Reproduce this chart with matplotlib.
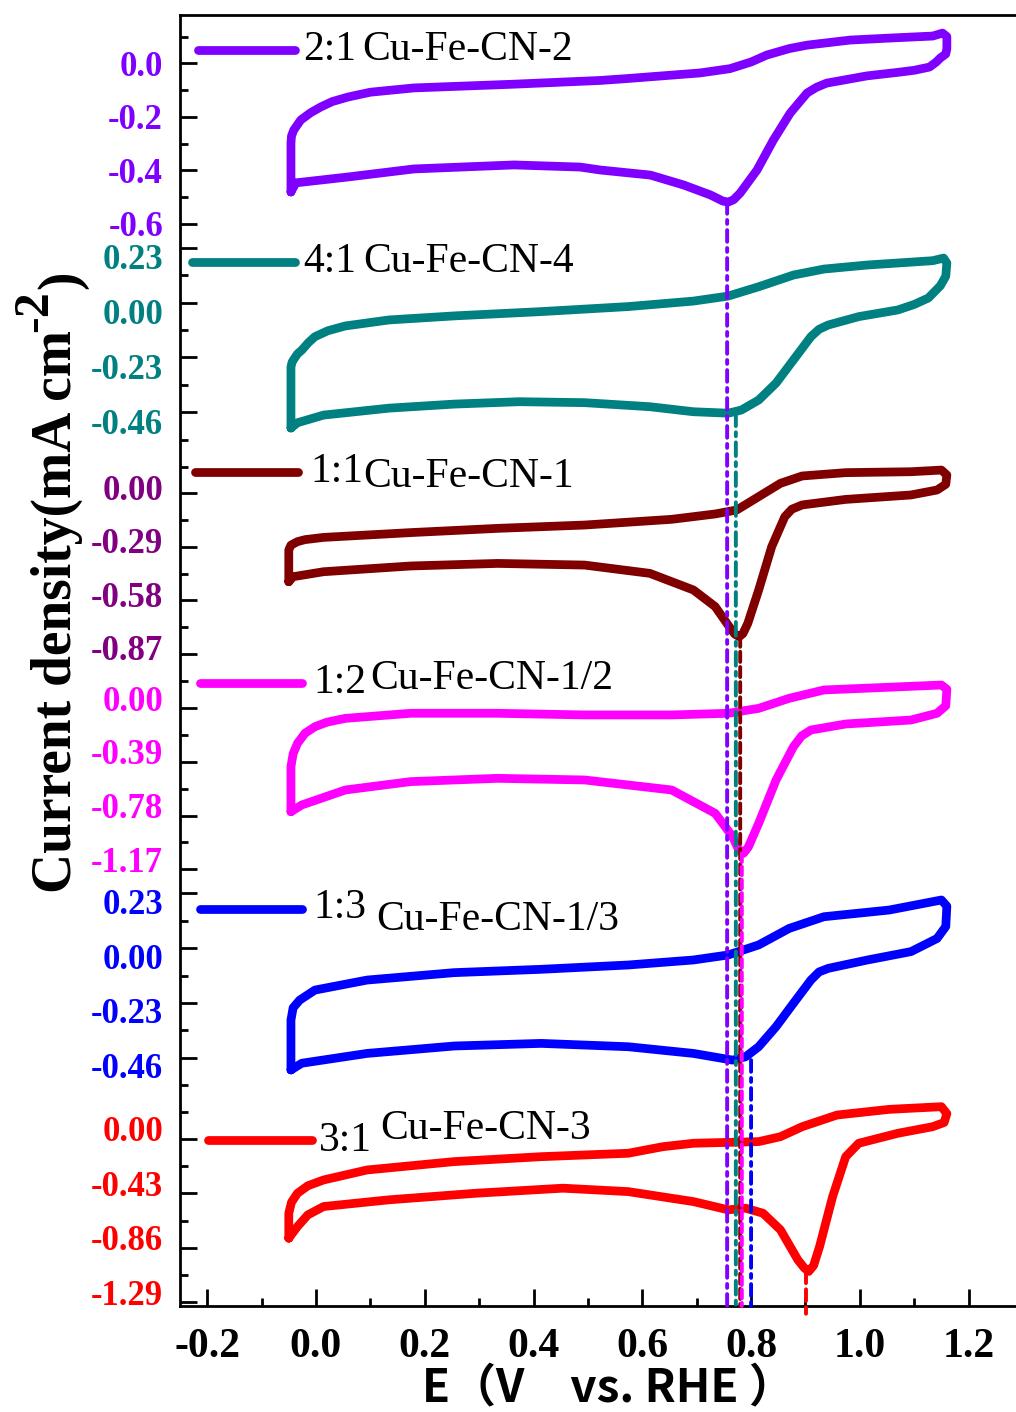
import matplotlib.pyplot as plt
from matplotlib.lines import Line2D
from matplotlib.patches import ConnectionPatch
from matplotlib.transforms import ScaledTranslation

plt.rcParams["font.family"] = "Liberation Serif"
plt.rcParams["axes.unicode_minus"] = False

# ---- data (E in V vs. RHE, j in mA cm-2), one closed CV loop per sample ----
ratios = ["2:1", "4:1", "1:1", "1:2", "1:3", "3:1"]
names = ["Cu-Fe-CN-2", "Cu-Fe-CN-4", "Cu-Fe-CN-1", "Cu-Fe-CN-1/2", "Cu-Fe-CN-1/3", "Cu-Fe-CN-3"]

e_cu2 = [-0.046, -0.046, -0.045, -0.041, -0.028, -0.010, 0.009, 0.030, 0.059, 0.100,
         0.180, 0.364, 0.523, 0.572, 0.706, 0.761, 0.800, 0.829, 0.870, 0.903,
         0.982, 1.060, 1.134, 1.152, 1.160, 1.160, 1.158, 1.148, 1.140, 1.128,
         1.100, 1.073, 1.013, 0.939, 0.920, 0.903, 0.872, 0.841, 0.811, 0.780,
         0.768, 0.758, 0.748, 0.725, 0.676, 0.615, 0.523, 0.486, 0.364, 0.180,
         0.059, -0.037, -0.046]
j_cu2 = [-0.481, -0.298, -0.272, -0.250, -0.212, -0.185, -0.163, -0.143, -0.126, -0.108,
         -0.092, -0.078, -0.064, -0.057, -0.036, -0.020, 0.005, 0.031, 0.055, 0.068,
         0.087, 0.095, 0.102, 0.113, 0.100, 0.055, 0.035, 0.020, 0.004, -0.014,
         -0.026, -0.033, -0.047, -0.074, -0.090, -0.111, -0.186, -0.287, -0.399, -0.485,
         -0.510, -0.519, -0.515, -0.492, -0.455, -0.418, -0.399, -0.388, -0.380, -0.395,
         -0.425, -0.447, -0.481]

e_cu4 = [-0.046, -0.046, -0.044, -0.040, -0.034, -0.026, -0.014, -0.002, 0.022, 0.054,
         0.134, 0.254, 0.414, 0.574, 0.694, 0.758, 0.814, 0.878, 0.934, 1.014,
         1.134, 1.154, 1.160, 1.158, 1.148, 1.126, 1.100, 1.070, 0.998, 0.942,
         0.925, 0.910, 0.878, 0.846, 0.814, 0.782, 0.758, 0.694, 0.614, 0.494,
         0.374, 0.254, 0.134, 0.014, -0.034, -0.046]
j_cu4 = [-0.525, -0.270, -0.250, -0.235, -0.215, -0.199, -0.168, -0.143, -0.118, -0.098,
         -0.073, -0.056, -0.038, -0.017, 0.006, 0.027, 0.066, 0.115, 0.140, 0.157,
         0.175, 0.186, 0.165, 0.110, 0.070, 0.019, -0.008, -0.031, -0.059, -0.094,
         -0.112, -0.143, -0.240, -0.337, -0.408, -0.450, -0.463, -0.457, -0.436, -0.419,
         -0.415, -0.425, -0.442, -0.471, -0.503, -0.525]

e_cu1 = [-0.050, -0.050, -0.046, -0.034, -0.020, 0.014, 0.174, 0.334, 0.494, 0.654,
         0.734, 0.774, 0.814, 0.854, 0.894, 0.974, 1.094, 1.150, 1.160, 1.158,
         1.142, 1.094, 0.974, 0.894, 0.875, 0.862, 0.838, 0.814, 0.794, 0.785,
         0.778, 0.770, 0.762, 0.734, 0.694, 0.614, 0.494, 0.334, 0.174, 0.014,
         -0.042, -0.050]
j_cu1 = [-0.478, -0.306, -0.280, -0.261, -0.250, -0.238, -0.212, -0.189, -0.171, -0.140,
         -0.111, -0.089, -0.017, 0.055, 0.095, 0.113, 0.118, 0.127, 0.100, 0.050,
         0.019, -0.008, -0.032, -0.062, -0.085, -0.126, -0.288, -0.523, -0.704, -0.760,
         -0.776, -0.762, -0.731, -0.613, -0.523, -0.433, -0.388, -0.379, -0.393, -0.424,
         -0.451, -0.478]

e_cu12 = [-0.046, -0.046, -0.042, -0.034, -0.020, -0.002, 0.020, 0.054, 0.174, 0.334,
          0.494, 0.654, 0.758, 0.814, 0.870, 0.934, 1.054, 1.150, 1.160, 1.158,
          1.142, 1.094, 0.974, 0.910, 0.893, 0.878, 0.846, 0.814, 0.795, 0.786,
          0.776, 0.766, 0.734, 0.654, 0.494, 0.334, 0.174, 0.054, -0.026, -0.046]
j_cu12 = [-0.752, -0.424, -0.330, -0.254, -0.180, -0.133, -0.100, -0.072, -0.035, -0.035,
          -0.047, -0.047, -0.035, 0.001, 0.074, 0.135, 0.155, 0.171, 0.140, 0.020,
          -0.035, -0.084, -0.113, -0.157, -0.200, -0.278, -0.521, -0.837, -1.010, -1.056,
          -1.020, -0.934, -0.764, -0.594, -0.521, -0.509, -0.533, -0.594, -0.703, -0.752]

e_cu13 = [-0.046, -0.046, -0.042, -0.030, -0.002, 0.094, 0.254, 0.414, 0.574, 0.694,
          0.758, 0.814, 0.870, 0.934, 1.054, 1.150, 1.160, 1.158, 1.142, 1.094,
          1.014, 0.942, 0.925, 0.910, 0.878, 0.846, 0.814, 0.790, 0.766, 0.694,
          0.574, 0.414, 0.254, 0.094, -0.026, -0.046]
j_cu13 = [-0.510, -0.301, -0.250, -0.218, -0.176, -0.134, -0.103, -0.089, -0.071, -0.050,
          -0.029, 0.013, 0.082, 0.131, 0.159, 0.201, 0.175, 0.090, 0.040, -0.015,
          -0.050, -0.085, -0.100, -0.134, -0.231, -0.329, -0.413, -0.455, -0.469, -0.441,
          -0.413, -0.399, -0.410, -0.441, -0.482, -0.510]

e_cu3 = [-0.050, -0.050, -0.045, -0.034, -0.015, 0.014, 0.094, 0.254, 0.414, 0.574,
         0.638, 0.694, 0.814, 0.854, 0.894, 0.958, 1.054, 1.150, 1.160, 1.155,
         1.134, 1.070, 0.998, 0.974, 0.950, 0.926, 0.915, 0.906, 0.898, 0.886,
         0.854, 0.822, 0.790, 0.758, 0.694, 0.574, 0.454, 0.294, 0.134, 0.014,
         -0.015, -0.034, -0.050]
j_cu3 = [-0.784, -0.587, -0.500, -0.429, -0.370, -0.324, -0.245, -0.179, -0.140, -0.113,
         -0.061, -0.034, -0.021, 0.018, 0.097, 0.189, 0.234, 0.255, 0.200, 0.130,
         0.097, 0.045, -0.034, -0.140, -0.455, -0.850, -1.000, -1.047, -1.020, -0.955,
         -0.718, -0.587, -0.547, -0.560, -0.495, -0.416, -0.389, -0.429, -0.481, -0.534,
         -0.600, -0.692, -0.784]

# cathodic peak positions, marked with vertical guide lines
peak_e = [0.756, 0.772, 0.780, 0.783, 0.800, 0.901]
peak_j = [-0.519, -0.460, -0.776, -1.056, -0.469, -1.047]

# y tick labels of each stacked layer
yt_cu2 = ["0.0", "-0.2", "-0.4", "-0.6"]
yt_cu4 = ["0.23", "0.00", "-0.23", "-0.46"]
yt_cu1 = ["0.00", "-0.29", "-0.58", "-0.87"]
yt_cu12 = ["0.00", "-0.39", "-0.78", "-1.17"]
yt_cu13 = ["0.23", "0.00", "-0.23", "-0.46"]
yt_cu3 = ["0.00", "-0.43", "-0.86", "-1.29"]

xt_labels = ["-0.2", "0.0", "0.2", "0.4", "0.6", "0.8", "1.0", "1.2"]

# ---- styling / layout ----
colors = ["#8000ff", "#008080", "#800000", "#ff00ff", "#0000ff", "#ff0000"]
label_colors = ["#8000ff", "#008080", "#800080", "#ff00ff", "#0000ff", "#ff0000"]
guide_styles = [(0, (3, 1.6, 1, 1.6)), (0, (3.5, 1.6, 1, 1.6)), (0, (2.6, 1.3)),
                (0, (2.2, 1.2)), (0, (3, 1.6, 1, 1.6)), (0, (3, 1.6))]
ylims = [(-0.70, 0.18), (-0.62, 0.28), (-1.05, 0.20), (-1.25, 0.22), (-0.62, 0.26), (-1.32, 0.30)]
bands_px = [(15.2, 250.5), (235.6, 450.7), (456.6, 687.2), (678.3, 880.0), (885.9, 1096.2), (1101.0, 1306.0)]
label_shift_px = [0, 9, -6, -10, 8, -10]
# extra half-step minor tick above the first / below the last major tick
minor_above = [True, False, True, False, False, True]
minor_below = [False, True, True, False, True, False]
# legend: line (x0, x1, y), ratio text (x, y), name text (x, y) in pixels
legend_px = [
    ((198, 295, 50), (303, 50), (362, 50)),
    ((192, 295, 262), (303, 262), (363, 262)),
    ((195, 298, 472), (310, 472), (363, 477)),
    ((200, 302, 683), (313, 683), (370, 679)),
    ((200, 302, 909), (313, 908), (376, 920)),
    ((208, 312, 1140), (319, 1141), (380, 1129)),
]
guide_overshoot = [0, 0, 0, 0, 0, 0.006]

W, H = 1016, 1412
fig = plt.figure(figsize=(W / 100, H / 100), dpi=100)
px = fig.dpi_scale_trans  # offsets below are given in px / 100

frame_left, frame_right, frame_top, frame_bottom = 180, 1023, 15, 1306
frame = fig.add_axes([frame_left / W, 1 - frame_bottom / H,
                      (frame_right - frame_left) / W, (frame_bottom - frame_top) / H])
frame.set_xlim(-0.25, 1.30)
frame.set_ylim(0, 1)
frame.set_yticks([])
for s in frame.spines.values():
    s.set_linewidth(2)
xt = [float(s) for s in xt_labels]
frame.set_xticks(xt, labels=xt_labels)
frame.set_xticks([v + 0.1 for v in xt], minor=True)
frame.tick_params(axis="x", which="major", direction="in", length=12, width=2,
                  pad=16, labelsize=30)
frame.tick_params(axis="x", which="minor", direction="in", length=6, width=2)
for lbl in frame.get_xticklabels():
    lbl.set_fontweight("bold")

curves = [(e_cu2, j_cu2), (e_cu4, j_cu4), (e_cu1, j_cu1),
          (e_cu12, j_cu12), (e_cu13, j_cu13), (e_cu3, j_cu3)]
yticks = [yt_cu2, yt_cu4, yt_cu1, yt_cu12, yt_cu13, yt_cu3]

for i, (e, j) in enumerate(curves):
    top, bottom = bands_px[i]
    ax = fig.add_axes([frame_left / W, 1 - bottom / H,
                       (frame_right - frame_left) / W, (bottom - top) / H])
    ax.patch.set_visible(False)
    for s in ax.spines.values():
        s.set_visible(False)
    ax.set_xlim(frame.get_xlim())
    ax.set_xticks([])

    ax.plot(e, j, color=colors[i], lw=6.3, solid_joinstyle="round",
            solid_capstyle="round", clip_on=False)

    # layer y axis: major ticks from the labels, minor ticks halfway
    major = [float(s) for s in yticks[i]]
    step = major[0] - major[1]
    minor = [m - step / 2 for m in major[:-1]]
    if minor_above[i]:
        minor.append(major[0] + step / 2)
    if minor_below[i]:
        minor.append(major[-1] - step / 2)
    ax.set_yticks(major, labels=[])
    ax.set_yticks(minor, minor=True)
    ax.set_ylim(*ylims[i])
    ax.tick_params(axis="y", which="major", direction="in", length=12, width=2)
    ax.tick_params(axis="y", which="minor", direction="in", length=6, width=2)
    lab_trans = ax.get_yaxis_transform() + ScaledTranslation(-0.17, -label_shift_px[i] / 100, px)
    for s, v in zip(yticks[i], major):
        ax.text(0, v, s, transform=lab_trans, ha="right", va="center_baseline",
                fontsize=25, fontweight="bold", color=label_colors[i])

    # guide line from the cathodic peak down to the E axis
    con = ConnectionPatch(xyA=(peak_e[i], peak_j[i]), coordsA=ax.transData,
                          xyB=(peak_e[i], -guide_overshoot[i]),
                          coordsB=frame.get_xaxis_transform(),
                          color=colors[i], lw=2.8, linestyle=guide_styles[i],
                          zorder=5)
    fig.add_artist(con)

    # legend entry
    (lx0, lx1, ly), (rx, ry), (nx, ny) = legend_px[i]
    fig.add_artist(Line2D([lx0 / W, lx1 / W], [1 - ly / H, 1 - ly / H],
                          transform=fig.transFigure, color=colors[i], lw=6.3,
                          solid_capstyle="round"))
    fig.text(rx / W, 1 - ry / H, ratios[i], fontsize=30, ha="left", va="center")
    fig.text(nx / W, 1 - ny / H, names[i], fontsize=30, ha="left", va="center")

# y axis title, with a full-size raised "-2"
renderer = fig.canvas.get_renderer()
ylab_x, ylab_bottom = 57 / W, 1 - 893 / H
t1 = fig.text(ylab_x, ylab_bottom, "Current density(mA cm", rotation=90,
              ha="center", va="bottom", fontsize=40, fontweight="bold")
bb = t1.get_window_extent(renderer)
t2 = fig.text(ylab_x, 0, "-2", rotation=90, ha="center", va="bottom",
              fontsize=36, fontweight="bold",
              transform=fig.transFigure + ScaledTranslation(-0.22, (bb.y1 - 2) / 100, px))
bb2 = t2.get_window_extent(renderer)
fig.text(ylab_x, 0, ")", rotation=90, ha="center", va="bottom",
         fontsize=40, fontweight="bold",
         transform=fig.transFigure + ScaledTranslation(0.05, (bb2.y1 + 1) / 100, px))

fig.text(422 / W, 1 - 1388 / H, "E（V\u3000vs. RHE ）",
         family=["Noto Sans CJK SC", "DejaVu Sans"], fontsize=33, fontweight="bold",
         ha="left", va="center")

fig.savefig("out.png", dpi=100)
plt.close(fig)
